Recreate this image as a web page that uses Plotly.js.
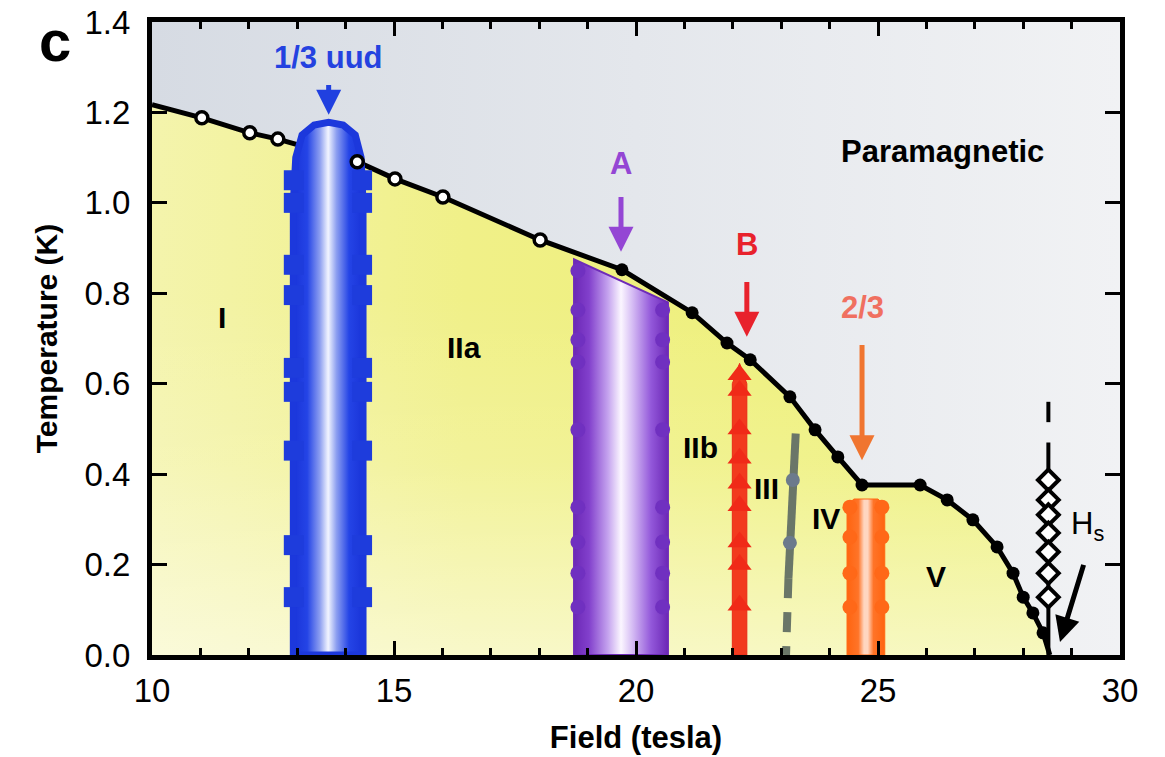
<!DOCTYPE html>
<html>
<head>
<meta charset="utf-8">
<script src="https://cdn.plot.ly/plotly-3.0.1.min.js"></script>
<style>
  html, body { margin: 0; padding: 0; background: #ffffff; }
  #chart { width: 1165px; height: 757px; }
</style>
</head>
<body>
<div id="chart"></div>
<script>
// Axis extents
const fieldRange = [10, 30];
const tempRange = [0, 1.4];

// Ordering boundary T_N(H): open-circle points (low field) and filled points (high field)
const openField = [11.03, 12.02, 12.6, 14.24, 15.02, 16.01, 18.02];
const openTemp  = [1.188, 1.155, 1.141, 1.091, 1.053, 1.013, 0.918];
const solidField = [19.71, 21.16, 21.88, 22.36, 23.18, 23.7, 24.17, 24.67, 25.87, 26.43, 26.96, 27.46, 27.79, 28.0, 28.2, 28.41];
const solidTemp  = [0.852, 0.757, 0.69, 0.653, 0.571, 0.498, 0.438, 0.376, 0.376, 0.343, 0.299, 0.239, 0.181, 0.128, 0.093, 0.049];
const boundaryStart = [10, 1.217];
const boundaryEnd = [28.55, 0];

// 1/3 uud plateau (blue dome)
const uudField = [12.92, 12.92, 12.97, 13.1, 13.35, 13.65, 13.95, 14.2, 14.32, 14.36, 14.36];
const uudTemp  = [0, 1.0, 1.1, 1.15, 1.172, 1.178, 1.172, 1.15, 1.1, 1.0, 0];
const uudPointsLeftField = 12.93;
const uudPointsRightField = 14.34;
const uudPointsTemp = [1.05, 1.0, 0.863, 0.796, 0.635, 0.582, 0.452, 0.243, 0.128];

// Phase A (purple band)
const aField = [18.72, 18.72, 20.66, 20.66];
const aTemp  = [0, 0.875, 0.78, 0];
const aPointsLeftField = 18.8;
const aPointsLeftTemp = [0.85, 0.763, 0.697, 0.648, 0.498, 0.327, 0.25, 0.181, 0.106];
const aPointsRightField = 20.55;
const aPointsRightTemp = [0.763, 0.697, 0.648, 0.498, 0.327, 0.25, 0.181, 0.106];

// Phase B (red line)
const bField = [21.99, 21.99, 22.14, 22.29, 22.29];
const bTemp  = [0, 0.6, 0.645, 0.6, 0];
const bPointsField = 22.14;
const bPointsTemp = [0.62, 0.585, 0.5, 0.435, 0.38, 0.33, 0.25, 0.2, 0.11];

// III / IV transition (grey line, dashed at low T)
const grayField = [23.3, 23.24, 23.15];
const grayTemp  = [0.49, 0.387, 0.17];
const grayDashField = [23.15, 23.1];
const grayDashTemp  = [0.17, 0];
const grayPointsField = [23.24, 23.18];
const grayPointsTemp  = [0.387, 0.248];

// 2/3 plateau (orange band)
const twoThirdField = [24.36, 24.36, 24.5, 25.0, 25.14, 25.14];
const twoThirdTemp  = [0, 0.33, 0.345, 0.345, 0.33, 0];
const twoThirdPointsLeftField = 24.42;
const twoThirdPointsRightField = 25.08;
const twoThirdPointsTemp = [0.327, 0.261, 0.181, 0.106];

// Saturation field H_s
const hsField = 28.52;
const hsLineTemp = [0.47, 0];
const hsDashTemp = [0.515, 0.56];
const hsPointsTemp = [0.387, 0.343, 0.31, 0.27, 0.228, 0.181, 0.128];

// Labels
const phaseNames = ['I', 'IIa', 'IIb', 'III', 'IV', 'V'];
const phaseField = [11.45, 16.45, 21.34, 22.7, 23.93, 26.2];
const phaseTemp  = [0.746, 0.681, 0.46, 0.369, 0.301, 0.173];

const plateauNames = ['1/3 uud', 'A', 'B', '2/3'];
const plateauField = [13.65, 19.69, 22.29, 24.67];
const plateauLabelTemp = [1.321, 1.088, 0.907, 0.768];
const arrowTailTemp = [1.283, 1.035, 0.847, 0.708];
const arrowHeadTemp = [1.195, 0.892, 0.704, 0.431];

const FONT = 'Liberation Sans, Arial, sans-serif';

// Full ordering boundary line
const lineField = [boundaryStart[0], ...openField, ...solidField, boundaryEnd[0]];
const lineTemp  = [boundaryStart[1], ...openTemp, ...solidTemp, boundaryEnd[1]];

const closeBottom = (xs, ys) => ({ x: [...xs, xs[0]], y: [...ys, ys[0]] });

const traces = [];

// Paramagnetic background
traces.push({
  x: [fieldRange[0], fieldRange[1], fieldRange[1], fieldRange[0], fieldRange[0]],
  y: [tempRange[0], tempRange[0], tempRange[1], tempRange[1], tempRange[0]],
  mode: 'lines', line: { width: 0 }, fill: 'toself', fillcolor: '#e6e9ee',
  fillgradient: { type: 'horizontal', colorscale: [[0, '#d6dbe3'], [0.5, '#e4e7ec'], [1, '#f1f2f4']] },
  hoverinfo: 'skip'
});

// Ordered region (yellow)
const orderedX = [...lineField, fieldRange[0], lineField[0]];
const orderedY = [...lineTemp, 0, lineTemp[0]];
traces.push({
  x: orderedX, y: orderedY, mode: 'lines', line: { width: 0 }, fill: 'toself', fillcolor: '#f0f08c',
  fillgradient: { type: 'horizontal', colorscale: [[0, '#f4f4ac'], [0.35, '#f0f088'], [0.7, '#eef07a'], [1, '#ecef70']] },
  hoverinfo: 'skip'
});
// soft haze toward low temperature
traces.push({
  x: orderedX, y: orderedY, mode: 'lines', line: { width: 0 }, fill: 'toself', fillcolor: 'rgba(255,255,255,0.2)',
  fillgradient: { type: 'vertical', colorscale: [[0, 'rgba(255,255,255,0.55)'], [0.35, 'rgba(255,255,255,0.15)'], [0.65, 'rgba(255,255,255,0)'], [1, 'rgba(255,255,255,0)']] },
  hoverinfo: 'skip'
});

// Phase A band
const aPoly = closeBottom(aField, aTemp);
traces.push({
  x: aPoly.x, y: aPoly.y, mode: 'lines', line: { width: 2, color: '#6e2bb8' }, fill: 'toself', fillcolor: '#a070e0',
  fillgradient: { type: 'horizontal', colorscale: [[0, '#6c28b6'], [0.16, '#8240cc'], [0.36, '#c4a2ee'], [0.5, '#fbf6ff'], [0.62, '#d6bdf4'], [0.82, '#9358da'], [1, '#6c28b6']] },
  hoverinfo: 'skip'
});
traces.push({
  x: aPointsLeftTemp.map(() => aPointsLeftField), y: aPointsLeftTemp, mode: 'markers',
  marker: { symbol: 'circle', size: 15, color: '#7030c0' }, hoverinfo: 'skip'
});
traces.push({
  x: aPointsRightTemp.map(() => aPointsRightField), y: aPointsRightTemp, mode: 'markers',
  marker: { symbol: 'circle', size: 15, color: '#7030c0' }, hoverinfo: 'skip'
});

// Phase B line
const bPoly = closeBottom(bField, bTemp);
traces.push({
  x: bPoly.x, y: bPoly.y, mode: 'lines', line: { width: 1, color: '#e82a16' }, fill: 'toself', fillcolor: '#f23a1e',
  hoverinfo: 'skip'
});
traces.push({
  x: bPointsTemp.map(() => bPointsField), y: bPointsTemp, mode: 'markers',
  marker: { symbol: 'triangle-up', size: 21, color: '#f02a18' }, hoverinfo: 'skip'
});

// Grey transition line
traces.push({
  x: grayField, y: grayTemp, mode: 'lines', line: { width: 8, color: '#6a7668' }, hoverinfo: 'skip'
});
traces.push({
  x: grayDashField, y: grayDashTemp, mode: 'lines', line: { width: 8, color: '#6a7668', dash: '20px,14px' }, hoverinfo: 'skip'
});
traces.push({
  x: grayPointsField, y: grayPointsTemp, mode: 'markers',
  marker: { symbol: 'circle', size: 14, color: '#6c7a8c' }, hoverinfo: 'skip'
});

// 2/3 plateau band
const tPoly = closeBottom(twoThirdField, twoThirdTemp);
traces.push({
  x: tPoly.x, y: tPoly.y, mode: 'lines', line: { width: 1, color: '#ff6a14' }, fill: 'toself', fillcolor: '#ff7a30',
  fillgradient: { type: 'horizontal', colorscale: [[0, '#ff6410'], [0.3, '#ff7428'], [0.45, '#ffd6c0'], [0.55, '#ffd6c0'], [0.7, '#ff7428'], [1, '#ff6410']] },
  hoverinfo: 'skip'
});
traces.push({
  x: twoThirdPointsTemp.map(() => twoThirdPointsLeftField), y: twoThirdPointsTemp, mode: 'markers',
  marker: { symbol: 'circle', size: 15, color: '#ff6818' }, hoverinfo: 'skip'
});
traces.push({
  x: twoThirdPointsTemp.map(() => twoThirdPointsRightField), y: twoThirdPointsTemp, mode: 'markers',
  marker: { symbol: 'circle', size: 15, color: '#ff6818' }, hoverinfo: 'skip'
});

// Ordering boundary line
traces.push({
  x: lineField, y: lineTemp, mode: 'lines', line: { width: 5, color: '#000000' }, hoverinfo: 'skip'
});

// 1/3 uud dome
const uPoly = closeBottom(uudField, uudTemp);
traces.push({
  x: uPoly.x, y: uPoly.y, mode: 'lines', line: { width: 7, color: '#1c38dc' }, fill: 'toself', fillcolor: '#5a72ea',
  fillgradient: { type: 'horizontal', colorscale: [[0, '#1a34d8'], [0.2, '#2444e6'], [0.38, '#8c9ef0'], [0.5, '#f2f5ff'], [0.62, '#8c9ef0'], [0.8, '#2444e6'], [1, '#1a34d8']] },
  hoverinfo: 'skip'
});
traces.push({
  x: uudPointsTemp.map(() => uudPointsLeftField), y: uudPointsTemp, mode: 'markers',
  marker: { symbol: 'square', size: 20, color: '#1e3cdc' }, hoverinfo: 'skip'
});
traces.push({
  x: uudPointsTemp.map(() => uudPointsRightField), y: uudPointsTemp, mode: 'markers',
  marker: { symbol: 'square', size: 20, color: '#1e3cdc' }, hoverinfo: 'skip'
});

// Boundary data points
traces.push({
  x: openField, y: openTemp, mode: 'markers',
  marker: { symbol: 'circle', size: 12, color: '#ffffff', line: { width: 3.5, color: '#000000' } }, hoverinfo: 'skip'
});
traces.push({
  x: solidField, y: solidTemp, mode: 'markers',
  marker: { symbol: 'circle', size: 13, color: '#000000' }, hoverinfo: 'skip'
});

// Saturation field
traces.push({
  x: hsLineTemp.map(() => hsField), y: hsLineTemp, mode: 'lines', line: { width: 4, color: '#000000' }, hoverinfo: 'skip'
});
traces.push({
  x: hsDashTemp.map(() => hsField), y: hsDashTemp, mode: 'lines', line: { width: 4, color: '#000000' }, hoverinfo: 'skip'
});
traces.push({
  x: hsPointsTemp.map(() => hsField), y: hsPointsTemp, mode: 'markers',
  marker: { symbol: 'diamond', size: 16, color: '#ffffff', line: { width: 4, color: '#000000' } }, hoverinfo: 'skip'
});

// Annotations
const annotations = [];
phaseNames.forEach((name, i) => {
  annotations.push({
    x: phaseField[i], y: phaseTemp[i], xref: 'x', yref: 'y', text: name, showarrow: false,
    font: { family: FONT, size: 30, color: '#000000', weight: 'bold' }
  });
});
annotations.push({
  x: 26.34, y: 1.113, xref: 'x', yref: 'y', text: 'Paramagnetic', showarrow: false,
  font: { family: FONT, size: 31, color: '#000000', weight: 'bold' }
});
const plateauColors = ['#2442e0', '#9446d4', '#e8222c', '#f07060'];
const arrowColors = ['#2040e0', '#9446d4', '#e8222c', '#f07530'];
plateauNames.forEach((name, i) => {
  annotations.push({
    x: plateauField[i], y: plateauLabelTemp[i], xref: 'x', yref: 'y', text: name, showarrow: false,
    font: { family: FONT, size: 31, color: plateauColors[i], weight: 'bold' }
  });
  annotations.push({
    x: plateauField[i], y: arrowHeadTemp[i], ax: plateauField[i], ay: arrowTailTemp[i],
    xref: 'x', yref: 'y', axref: 'x', ayref: 'y', text: ' ', showarrow: true,
    arrowhead: 2, arrowsize: 1, arrowwidth: 5, arrowcolor: arrowColors[i]
  });
});
annotations.push({
  x: 29.33, y: 0.285, xref: 'x', yref: 'y', text: 'H<sub>s</sub>', showarrow: false,
  font: { family: FONT, size: 31, color: '#000000' }
});
annotations.push({
  x: 28.76, y: 0.029, ax: 29.31, ay: 0.221, xref: 'x', yref: 'y', axref: 'x', ayref: 'y',
  text: ' ', showarrow: true, arrowhead: 2, arrowsize: 1, arrowwidth: 5, arrowcolor: '#000000'
});
annotations.push({
  x: -0.1, y: 0.97, xref: 'paper', yref: 'paper', xanchor: 'center', yanchor: 'middle',
  text: 'c', showarrow: false,
  font: { family: FONT, size: 58, color: '#000000', weight: 'bold' }
});

const axisCommon = {
  showline: true, linewidth: 5, linecolor: '#000000', mirror: 'allticks',
  ticks: 'inside', tickwidth: 3, tickcolor: '#000000',
  showgrid: false, zeroline: false, automargin: false,
  tickfont: { family: FONT, size: 33, color: '#000000' }
};

const layout = {
  width: 1165, height: 757,
  margin: { l: 152, r: 45, t: 22, b: 102 },
  paper_bgcolor: '#ffffff', plot_bgcolor: '#e6e9ee',
  showlegend: false,
  xaxis: Object.assign({}, axisCommon, {
    range: fieldRange, tickvals: [10, 15, 20, 25, 30], ticklen: 14,
    minor: { dtick: 1, ticks: 'inside', ticklen: 7, tickwidth: 3, tickcolor: '#000000' },
    ticklabelstandoff: 2,
    title: { text: 'Field (tesla)', standoff: 20, font: { family: FONT, size: 31, color: '#000000', weight: 'bold' } }
  }),
  yaxis: Object.assign({}, axisCommon, {
    range: tempRange, dtick: 0.2, tick0: 0, tickformat: '.1f', ticklen: 15,
    ticklabelstandoff: 10,
    title: { text: 'Temperature (K)', standoff: 20, font: { family: FONT, size: 30, color: '#000000', weight: 'bold' } }
  }),
  annotations: annotations
};

Plotly.newPlot('chart', traces, layout, { displayModeBar: false, staticPlot: true });
</script>
</body>
</html>
